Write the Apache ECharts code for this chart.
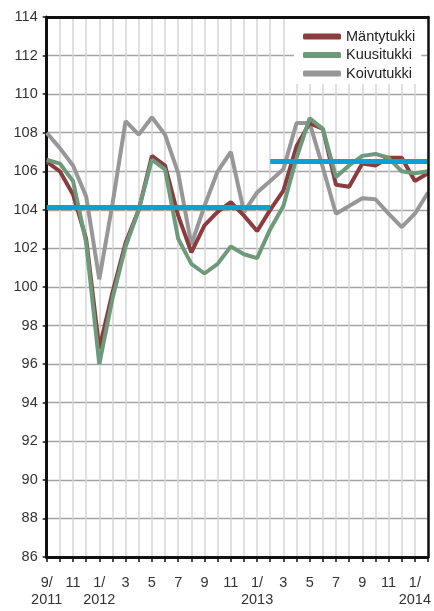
<!DOCTYPE html>
<html>
<head>
<meta charset="utf-8">
<script src="https://cdn.jsdelivr.net/npm/echarts@6/dist/echarts.min.js"></script>
<style>
  html, body { margin: 0; padding: 0; background: #fff; }
  #chart { width: 434px; height: 611px; }
</style>
</head>
<body>
<div id="chart"></div>
<script>
// Months from 9/2011 to 2/2014
const months = [
  '9/2011','10/2011','11/2011','12/2011',
  '1/2012','2/2012','3/2012','4/2012','5/2012','6/2012','7/2012','8/2012','9/2012','10/2012','11/2012','12/2012',
  '1/2013','2/2013','3/2013','4/2013','5/2013','6/2013','7/2013','8/2013','9/2013','10/2013','11/2013','12/2013',
  '1/2014','2/2014'
];

const mantytukki = [
  106.5, 106.0, 104.8, 102.5,
  96.8, 99.7, 102.3, 104.0, 106.8, 106.3, 103.7, 101.8, 103.2, 103.9, 104.4, 103.7,
  102.9, 104.0, 105.0, 107.3, 108.5, 108.2, 105.3, 105.2, 106.4, 106.3, 106.7, 106.7,
  105.5, 105.9
];

const kuusitukki = [
  106.6, 106.4, 105.5, 102.3,
  96.0, 99.4, 102.1, 104.0, 106.6, 106.1, 102.5, 101.2, 100.7, 101.2, 102.1, 101.7,
  101.5, 103.0, 104.2, 106.7, 108.75, 108.2, 105.7, 106.3, 106.8, 106.9, 106.7, 106.0,
  105.9, 106.0
];

const koivutukki = [
  108.0, 107.2, 106.3, 104.7,
  100.4, 104.3, 108.6, 107.9, 108.8, 107.9, 105.9, 102.2, 104.2, 106.0, 107.0, 103.9,
  104.9, 105.5, 106.1, 108.5, 108.5, 106.2, 103.8, 104.2, 104.6, 104.55, 103.8, 103.1,
  103.8, 104.9
];

// Period averages (blue reference lines)
const avgFrom = ['9/2011', '2/2013'];
const avgTo = ['2/2013', '2/2014'];
const avgValue = [104.15, 106.5];

const seriesNames = ['Mäntytukki', 'Kuusitukki', 'Koivutukki'];

const FONT = '"Liberation Sans", Arial, sans-serif';

const chart = echarts.init(document.getElementById('chart'), null, { renderer: 'canvas' });

const option = {
  animation: false,
  backgroundColor: '#ffffff',
  textStyle: { fontFamily: FONT },
  grid: {
    left: 46.7, right: 3, top: 17, bottom: 54,
    show: false
  },
  legend: {
    data: seriesNames,
    orient: 'vertical',
    left: 294, top: 19,
    backgroundColor: '#ffffff',
    padding: [10, 6, 3, 9],
    itemGap: 3.5,
    itemWidth: 38,
    itemHeight: 6,
    icon: 'roundRect',
    textStyle: { fontFamily: FONT, fontSize: 14.5, color: '#222', lineHeight: 14.5 }
  },
  xAxis: [
    {
      type: 'category',
      data: months,
      boundaryGap: false,
      axisLine: { show: true, lineStyle: { color: '#111', width: 3 } },
      axisTick: { show: true, interval: 0, length: 5, lineStyle: { color: '#111', width: 1.5 } },
      splitLine: { show: true, interval: 0, lineStyle: { color: '#d6d6d6', width: 1.5 } },
      axisLabel: {
        interval: function (idx) { return idx % 2 === 0; },
        showMinLabel: true,
        showMaxLabel: true,
        hideOverlap: false,
        margin: 17,
        fontFamily: FONT,
        fontSize: 14.5,
        lineHeight: 17,
        color: '#333',
        formatter: function (val, idx) {
          const parts = val.split('/');
          if (idx === 0 || parts[0] === '1') return parts[0] + '/\n' + parts[1];
          return parts[0];
        }
      }
    },
    {
      type: 'category',
      data: months,
      boundaryGap: false,
      position: 'top',
      z: 10,
      axisLine: { show: true, onZero: false, lineStyle: { color: '#111', width: 3 } },
      axisTick: { show: false },
      axisLabel: { show: false },
      splitLine: { show: false }
    }
  ],
  yAxis: [
    {
      type: 'value',
      min: 86, max: 114, interval: 2,
      axisLine: { show: true, lineStyle: { color: '#111', width: 3 } },
      axisTick: { show: true, length: 4, lineStyle: { color: '#111', width: 1.5 } },
      splitLine: { show: true, lineStyle: { color: '#a3a3a3', width: 1.3 } },
      axisLabel: { margin: 9, fontFamily: FONT, fontSize: 14.5, color: '#333' }
    },
    {
      type: 'value',
      min: 86, max: 114, interval: 2,
      position: 'right',
      z: 10,
      axisLine: { show: true, onZero: false, lineStyle: { color: '#111', width: 2.5 } },
      axisTick: { show: false },
      axisLabel: { show: false },
      splitLine: { show: false }
    }
  ],
  series: [
    {
      name: 'Koivutukki', type: 'line', data: koivutukki, symbol: 'none', z: 2,
      lineStyle: { color: '#979797', width: 4 }, itemStyle: { color: '#979797' }
    },
    {
      name: 'Mäntytukki', type: 'line', data: mantytukki, symbol: 'none', z: 3,
      lineStyle: { color: '#8a3c3f', width: 4 }, itemStyle: { color: '#8a3c3f' }
    },
    {
      name: 'Kuusitukki', type: 'line', data: kuusitukki, symbol: 'none', z: 4,
      lineStyle: { color: '#6d9a7a', width: 4 }, itemStyle: { color: '#6d9a7a' }
    },
    {
      name: 'Keskiarvo', type: 'line', data: [], z: 5, silent: true,
      markLine: {
        silent: true,
        symbol: ['none', 'none'],
        label: { show: false },
        lineStyle: { color: '#0d9fd8', width: 5, type: 'solid' },
        data: avgValue.map(function (v, i) {
          return [{ coord: [avgFrom[i], v] }, { coord: [avgTo[i], v] }];
        })
      }
    }
  ]
};

chart.setOption(option);
</script>
</body>
</html>
